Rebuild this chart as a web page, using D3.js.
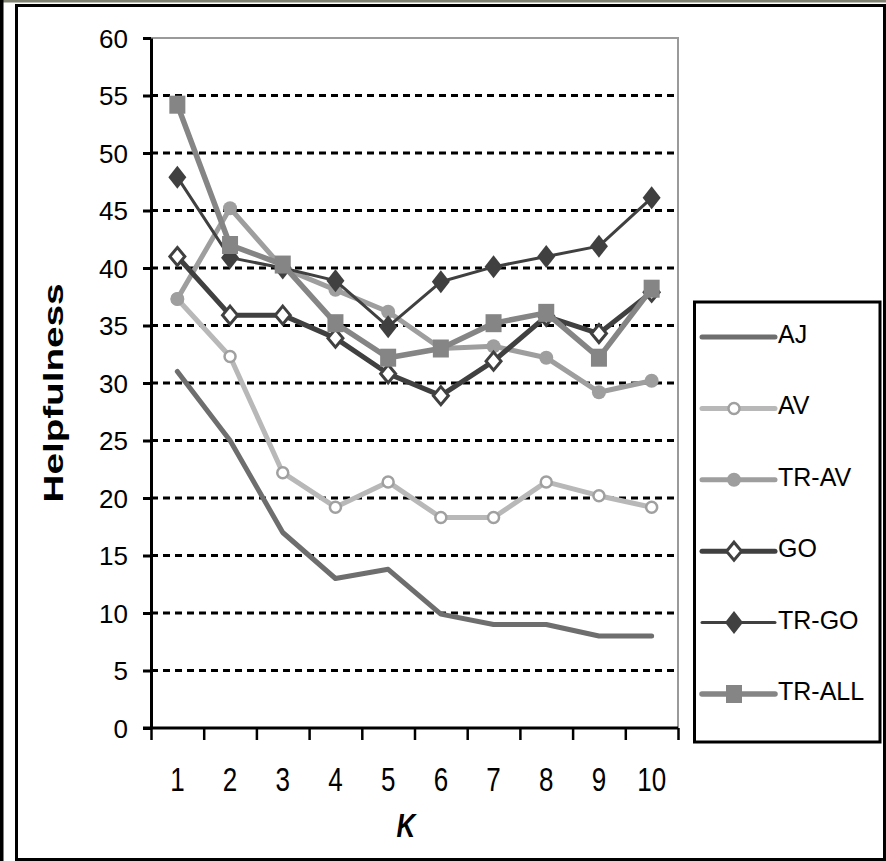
<!DOCTYPE html>
<html>
<head>
<meta charset="utf-8">
<script src="https://cdn.jsdelivr.net/npm/d3@7"></script>
<style>
  body { margin: 0; background: #fff; }
  svg { display: block; font-family: "Liberation Sans", Arial, sans-serif; }
</style>
</head>
<body>
<div id="chart"></div>
<script>
// data
const ks = [1, 2, 3, 4, 5, 6, 7, 8, 9, 10];
const yTicks = [0, 5, 10, 15, 20, 25, 30, 35, 40, 45, 50, 55, 60];
const seriesNames = ["AJ", "AV", "TR-AV", "GO", "TR-GO", "TR-ALL"];
const aj    = [31, 25, 17, 13, 13.8, 9.9, 9, 9, 8, 8];
const av    = [37.3, 32.3, 22.2, 19.2, 21.4, 18.3, 18.3, 21.4, 20.2, 19.2];
const trAv  = [37.3, 45.2, 40, 38.1, 36.2, 33, 33.2, 32.2, 29.2, 30.2];
const go    = [41, 35.9, 35.9, 33.9, 30.8, 28.9, 31.9, 35.8, 34.3, 37.9];
const trGo  = [47.9, 40.9, 40, 38.9, 34.9, 38.8, 40.1, 41, 41.9, 46.1];
const trAll = [54.2, 42, 40.3, 35.2, 32.2, 33, 35.2, 36.1, 32.2, 38.2];

// style per series
const styles = {
  "AJ":     { values: aj,    color: "#6e6e6e", width: 5, marker: null },
  "AV":     { values: av,    color: "#b8b8b8", width: 5, marker: "openCircle", mcolor: "#a0a0a0" },
  "TR-AV":  { values: trAv,  color: "#9e9e9e", width: 5, marker: "circle", mcolor: "#9e9e9e" },
  "GO":     { values: go,    color: "#404040", width: 5, marker: "openDiamond", mcolor: "#404040" },
  "TR-GO":  { values: trGo,  color: "#404040", width: 3, marker: "diamond", mcolor: "#404040" },
  "TR-ALL": { values: trAll, color: "#858585", width: 5.5, marker: "square", mcolor: "#858585" }
};

const W = 886, H = 861;
const plot = { left: 151, right: 678, top: 38, bottom: 728 };

const svg = d3.select("#chart").append("svg")
  .attr("width", W)
  .attr("height", H);

svg.append("rect").attr("width", W).attr("height", H).attr("fill", "#fff");

// frame
svg.append("rect").attr("x", 0).attr("y", 0).attr("width", W).attr("height", 2.5).attr("fill", "#7e8070");
svg.append("rect").attr("x", 0).attr("y", 0).attr("width", 3.5).attr("height", H).attr("fill", "#000");
svg.append("rect")
  .attr("x", 16.5).attr("y", 5.5)
  .attr("width", 868).attr("height", 854)
  .attr("fill", "none").attr("stroke", "#000").attr("stroke-width", 3);

// scales
const x = d3.scaleBand().domain(ks).range([plot.left, plot.right]);
const xEdges = d3.scaleLinear().domain([0, ks.length]).range([plot.left, plot.right]);
const y = d3.scaleLinear().domain([0, 60]).range([plot.bottom, plot.top]);

// plot border (gray top / right)
svg.append("path")
  .attr("d", `M${plot.left},${plot.top}H${plot.right}V${plot.bottom}`)
  .attr("fill", "none").attr("stroke", "#9a9a9a").attr("stroke-width", 2);

// dashed gridlines
svg.append("g")
  .selectAll("line")
  .data(yTicks.filter(d => d > 0 && d < 60))
  .join("line")
  .attr("x1", plot.left).attr("x2", plot.right)
  .attr("y1", d => y(d)).attr("y2", d => y(d))
  .attr("stroke", "#000").attr("stroke-width", 3)
  .attr("stroke-dasharray", "7,5");

// y axis
const yAxis = svg.append("g")
  .attr("transform", `translate(${plot.left},0)`)
  .call(d3.axisLeft(y).tickValues(yTicks).tickSize(8).tickPadding(15).tickSizeOuter(0));
yAxis.select(".domain").attr("stroke-width", 3);
yAxis.selectAll(".tick line").attr("stroke-width", 3);
yAxis.selectAll(".tick text")
  .attr("font-size", 26)
  .attr("fill", "#000")
  .attr("dy", "0.36em");

// x axis: tick marks at category edges
const xTickAxis = svg.append("g")
  .attr("transform", `translate(0,${plot.bottom})`)
  .call(d3.axisBottom(xEdges).ticks(ks.length).tickSize(12).tickFormat("").tickSizeOuter(0));
xTickAxis.select(".domain").remove();
xTickAxis.selectAll(".tick line").attr("stroke-width", 2.5);

// x axis: labels at category centres
const xAxis = svg.append("g")
  .attr("transform", `translate(0,${plot.bottom})`)
  .call(d3.axisBottom(x).tickSize(0).tickSizeOuter(0));
xAxis.select(".domain").remove();
xAxis.selectAll(".tick text")
  .attr("font-size", 26)
  .attr("fill", "#000")
  .attr("dy", 0)
  .attr("y", 63 / 1.3)
  .attr("transform", "scale(1,1.3)");

// x axis line drawn over
svg.append("line")
  .attr("x1", plot.left - 8).attr("x2", plot.right)
  .attr("y1", plot.bottom).attr("y2", plot.bottom)
  .attr("stroke", "#000").attr("stroke-width", 3);

// axis titles
svg.append("text")
  .attr("transform", "translate(406,837) scale(1,1.3)")
  .attr("text-anchor", "middle")
  .attr("font-size", 26)
  .attr("font-weight", "bold")
  .attr("font-style", "italic")
  .text("K");

svg.append("text")
  .attr("transform", "translate(63,393) rotate(-90) scale(1.38,1)")
  .attr("text-anchor", "middle")
  .attr("font-size", 28)
  .attr("font-weight", "bold")
  .text("Helpfulness");

// markers
function drawMarker(g, type, color, cx, cy) {
  if (type === "openCircle") {
    g.append("circle").attr("cx", cx).attr("cy", cy).attr("r", 5.5)
      .attr("fill", "#fff").attr("stroke", color).attr("stroke-width", 2.5);
  } else if (type === "circle") {
    g.append("circle").attr("cx", cx).attr("cy", cy).attr("r", 7).attr("fill", color);
  } else if (type === "openDiamond") {
    g.append("path")
      .attr("d", `M${cx},${cy - 9}L${cx + 7.5},${cy}L${cx},${cy + 9}L${cx - 7.5},${cy}Z`)
      .attr("fill", "#fff").attr("stroke", color).attr("stroke-width", 3);
  } else if (type === "diamond") {
    g.append("path")
      .attr("d", `M${cx},${cy - 11.5}L${cx + 9},${cy}L${cx},${cy + 11.5}L${cx - 9},${cy}Z`)
      .attr("fill", color);
  } else if (type === "square") {
    g.append("rect").attr("x", cx - 8).attr("y", cy - 9).attr("width", 16).attr("height", 18)
      .attr("fill", color);
  }
}

// series lines
const line = d3.line()
  .x((d, i) => x(ks[i]) + x.bandwidth() / 2)
  .y(d => y(d));

seriesNames.forEach(name => {
  const s = styles[name];
  const g = svg.append("g").attr("class", "series");
  g.append("path")
    .datum(s.values)
    .attr("d", line)
    .attr("fill", "none")
    .attr("stroke", s.color)
    .attr("stroke-width", s.width)
    .attr("stroke-linejoin", "round")
    .attr("stroke-linecap", name === "AJ" ? "round" : "butt");
  if (s.marker) {
    s.values.forEach((v, i) => {
      drawMarker(g, s.marker, s.mcolor, x(ks[i]) + x.bandwidth() / 2, y(v));
    });
  }
});

// legend
const legend = svg.append("g");
legend.append("rect")
  .attr("x", 694.5).attr("y", 302)
  .attr("width", 185.5).attr("height", 440)
  .attr("fill", "#fff").attr("stroke", "#000").attr("stroke-width", 3);

seriesNames.forEach((name, i) => {
  const s = styles[name];
  const ly = 337 + i * 71.4;
  legend.append("line")
    .attr("x1", 702).attr("x2", 775)
    .attr("y1", ly).attr("y2", ly)
    .attr("stroke", s.color)
    .attr("stroke-width", s.width)
    .attr("stroke-linecap", "round");
  if (s.marker) drawMarker(legend, s.marker, s.mcolor, 734, ly);
  legend.append("text")
    .attr("x", 778).attr("y", ly + 6)
    .attr("font-size", 25)
    .attr("fill", "#000")
    .text(name);
});
</script>
</body>
</html>
